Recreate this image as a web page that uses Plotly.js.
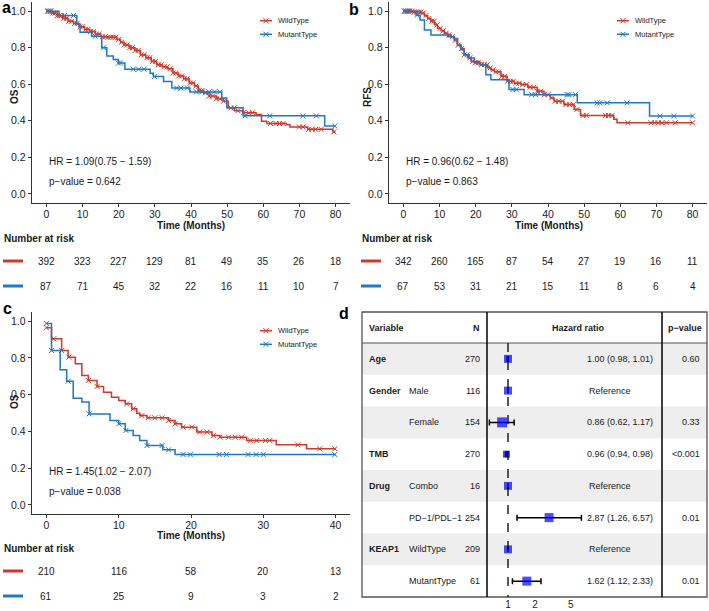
<!DOCTYPE html>
<html><head><meta charset="utf-8">
<script src="https://cdn.plot.ly/plotly-3.0.1.min.js"></script>
<style>html,body{margin:0;padding:0;background:#fff}#chart{width:709px;height:611px}</style>
</head><body><div id="chart"></div>
<script>
// ---------------- DATA ----------------
const groups = ['WildType', 'MutantType'];
const ticksAB = [0,10,20,30,40,50,60,70,80];
const ticksC = [0,10,20,30,40];

// Panel a (OS)
const a_wt_t = [0,1.5,3,4.5,6,7.5,9,10.5,12,13.5,15,17,19.5,20.5,21.5,23,24.5,26,27.5,29,30.5,32,33.5,35,36.5,38,39.5,41,42,43.5,45,47,49,50.3,52,54.4,58,59.5,61,66.4,67.4,72.3,79.3,80];
const a_wt_s = [1,0.99,0.975,0.96,0.945,0.933,0.915,0.9,0.888,0.875,0.86,0.857,0.845,0.83,0.815,0.8,0.785,0.761,0.745,0.725,0.707,0.695,0.685,0.661,0.645,0.63,0.607,0.59,0.565,0.553,0.535,0.52,0.507,0.47,0.455,0.444,0.435,0.398,0.385,0.378,0.366,0.353,0.339,0.339];
const a_wt_c = [0.3,0.8,1.3,1.8,2.4,3,3.6,4.2,4.8,5.5,6.2,7,7.8,8.5,9.3,10,10.8,11.5,12.2,13,13.8,14.6,15.5,16.3,17,17.8,18.5,19.2,20,20.8,21.5,22.3,23,23.8,24.6,25.4,26.2,27,27.8,28.6,29.4,30.2,31,31.8,32.6,33.4,34.2,35,35.8,36.6,37.4,38.2,39,39.8,40.6,41.4,42.2,43,44,45,46,47,48,49,51,53,54.5,56,57,62,63.5,64.5,65.5,70,71,72.5,73.5,74.5,76,79.5];
const a_mt_t = [0,3.5,8.4,9.3,12.5,15.3,16.7,18.5,19.9,21.7,28.7,29.6,32.4,34.7,39.7,48.5,49.9,54.4,77,80];
const a_mt_s = [1,0.976,0.93,0.885,0.862,0.8,0.755,0.735,0.716,0.682,0.66,0.642,0.615,0.579,0.558,0.525,0.471,0.427,0.371,0.371];
const a_mt_c = [0.5,1.2,5,7.5,13.5,15.8,19.9,20.5,24,25.5,27,29.9,36,37.2,39,41.5,43,45,46.5,48,52,55,61.8,71,74.7,79.8];
const a_risk_wt = [392,323,227,129,81,49,35,26,18];
const a_risk_mt = [87,71,45,32,22,16,11,10,7];
const a_stats = ['HR = 1.09(0.75 \u2212 1.59)', 'p\u2212value = 0.642'];

// Panel b (RFS)
const b_wt_t = [0,2.5,4.9,5.8,6.7,7.6,8.6,9.4,10.4,11.3,12.3,13.2,14.1,14.9,15.9,16.8,17.8,18.7,19.6,21.4,23.3,24.2,25.2,27,28.7,30.7,32.5,34.4,37,38.9,40.7,41.7,44.4,47.2,49,58.2,59.1,80];
const b_wt_s = [1,0.995,0.99,0.975,0.96,0.945,0.925,0.906,0.892,0.879,0.87,0.86,0.84,0.815,0.795,0.761,0.745,0.725,0.718,0.707,0.69,0.679,0.668,0.643,0.616,0.605,0.598,0.584,0.561,0.543,0.525,0.507,0.489,0.462,0.429,0.408,0.389,0.389];
const b_wt_c = [0.3,0.8,1.3,1.8,2.4,3,3.6,4.2,4.8,5.5,6.2,7,7.8,8.5,9.3,10.2,11,11.8,12.6,13.5,14.3,15.2,16,16.8,17.6,18.4,19.2,20,20.8,21.6,22.4,23.2,24,24.8,25.6,26.4,27.2,28,28.8,29.6,30.4,31.2,32,33,34,35,36,37,38,39,40,41,42,43,44,45,46,47,48,49.7,50.6,55.9,56.8,57.7,62.1,68.5,69.5,70.5,71.5,72.8,75.2,80];
const b_mt_t = [0,3.5,4.6,5.8,7.6,12.2,14,15,15.9,16.8,18.2,19.6,21,22.8,24.2,29.2,33.4,48.1,68.1,80];
const b_mt_s = [1,0.978,0.951,0.897,0.87,0.86,0.85,0.815,0.788,0.761,0.743,0.725,0.707,0.652,0.625,0.571,0.543,0.498,0.426,0.426];
const b_mt_c = [0.3,0.8,1.3,3.8,30.3,31.2,35.5,36.5,45.3,45.8,47.6,53.6,54.3,56.4,61.9,71,74.8,80];
const b_risk_wt = [342,260,165,87,54,27,19,16,11];
const b_risk_mt = [67,53,31,21,15,11,8,6,4];
const b_stats = ['HR = 0.96(0.62 \u2212 1.48)', 'p\u2212value = 0.863'];

// Panel c (OS)
const c_wt_t = [0,0.7,2.1,3,4,4.9,5.8,7,7.9,9,10,10.9,11.8,12.5,12.9,13.9,16.9,17.8,18.7,20.8,22.9,24,27.7,31.8,36,40];
const c_wt_s = [0.964,0.904,0.84,0.804,0.768,0.704,0.677,0.644,0.613,0.586,0.568,0.55,0.523,0.499,0.486,0.474,0.459,0.441,0.423,0.396,0.377,0.368,0.35,0.327,0.305,0.305];
const c_wt_c = [0,1,2.1,3.1,5.8,7,11.1,12,13.2,14.1,15,16,16.9,17.8,18.9,20.1,21.2,22.2,23.1,24,25.2,26.1,27,28.2,29.1,30.3,30.9,34.8,37.8,39.9];
const c_mt_t = [0,0.7,1.9,2.8,3.7,4.9,5.9,8.8,10,10.9,12,12.9,13.9,16.1,17.8,40];
const c_mt_s = [0.988,0.84,0.735,0.673,0.58,0.56,0.495,0.459,0.441,0.405,0.377,0.35,0.323,0.3,0.274,0.274];
const c_mt_c = [0,0.7,3,5.9,10,11,13.9,16,16.9,18.9,19.9,23.9,24.9,27.9,29,30,39.9];
const c_risk_wt = [210,116,58,20,13];
const c_risk_mt = [61,25,9,3,2];
const c_stats = ['HR = 1.45(1.02 \u2212 2.07)', 'p\u2212value = 0.038'];

// Panel d (forest)
const fp_var   = ['Age','Gender','','TMB','Drug','','KEAP1',''];
const fp_level = ['','Male','Female','','Combo','PD\u22121/PDL\u22121','WildType','MutantType'];
const fp_n     = [270,116,154,270,16,254,209,61];
const fp_hr    = [1.00,1,0.86,0.96,1,2.87,1,1.62];
const fp_lo    = [0.98,null,0.62,0.94,null,1.26,null,1.12];
const fp_hi    = [1.01,null,1.17,0.98,null,6.57,null,2.33];
const fp_p     = ['0.60','','0.33','<0.001','','0.01','','0.01'];
const fp_ticks = [1,2,5];

// ---------------- STYLE / LAYOUT ----------------
const W = 709, H = 611;
const px = x => x / W, py = y => 1 - y / H;
const FONT = 'Liberation Sans, Arial, sans-serif';
const RED = '#CB3A2C', BLUE = '#1F78C4', TXT = '#1a1a1a';

function survAt(t, times, surv) {
  let s = surv[0];
  for (let i = 0; i < times.length; i++) { if (times[i] <= t) s = surv[i]; else break; }
  return s;
}
function kmTraces(times, surv, cens, color, xa, ya) {
  return [
    {type:'scatter', mode:'lines', x:times, y:surv, xaxis:xa, yaxis:ya, line:{shape:'hv', color:color, width:1.5}, showlegend:false, hoverinfo:'skip'},
    {type:'scatter', mode:'markers', x:cens, y:cens.map(t => survAt(t, times, surv)), xaxis:xa, yaxis:ya,
     marker:{symbol:'x-thin', size:5, line:{width:1, color:color}, color:color}, showlegend:false, hoverinfo:'skip'}
  ];
}

const traces = [].concat(
  kmTraces(a_wt_t, a_wt_s, a_wt_c, RED, 'x', 'y'),
  kmTraces(a_mt_t, a_mt_s, a_mt_c, BLUE, 'x', 'y'),
  kmTraces(b_wt_t, b_wt_s, b_wt_c, RED, 'x2', 'y2'),
  kmTraces(b_mt_t, b_mt_s, b_mt_c, BLUE, 'x2', 'y2'),
  kmTraces(c_wt_t, c_wt_s, c_wt_c, RED, 'x3', 'y3'),
  kmTraces(c_mt_t, c_mt_s, c_mt_c, BLUE, 'x3', 'y3')
);

const fpY = fp_hr.map((_, i) => i + 0.5);
traces.push({
  type:'scatter', mode:'markers', x:fp_hr, y:fpY, xaxis:'x4', yaxis:'y4', showlegend:false, hoverinfo:'skip',
  marker:{symbol:'square', size:[8,8,10,7,8,9,8,9], color:'#0000FF', line:{width:0}},
  error_x:{type:'data', symmetric:false,
    array: fp_hr.map((v,i) => fp_hi[i] == null ? 0 : fp_hi[i] - v),
    arrayminus: fp_hr.map((v,i) => fp_lo[i] == null ? 0 : v - fp_lo[i]),
    color:'#000', thickness:1.5, width:3}
});

const tickFont = {family:FONT, size:10.5, color:'#222'};
function kmX(l, r, range, tickvals, anchor) {
  return {domain:[px(l), px(r)], range:range, tickvals:tickvals, showline:true, linecolor:'#333', linewidth:1.3,
    ticks:'outside', ticklen:3, tickcolor:'#333', tickwidth:1, ticklabelstandoff:-2, showgrid:false, zeroline:false, tickfont:tickFont, anchor:anchor, fixedrange:true};
}
function kmY(t, b, anchor) {
  return {domain:[py(b), py(t)], range:[-0.05,1.05], tickvals:[0,0.2,0.4,0.6,0.8,1], tickformat:'.1f', showline:true, linecolor:'#333', linewidth:1.3,
    ticks:'outside', ticklen:3, tickcolor:'#333', tickwidth:1, showgrid:false, zeroline:false, tickfont:tickFont, anchor:anchor, fixedrange:true};
}

const ann = [];
function txt(text, x, y, opt) {
  ann.push(Object.assign({text:text, x:px(x), y:py(y), xref:'paper', yref:'paper', showarrow:false,
    xanchor:'left', yanchor:'middle', font:{family:FONT, size:10, color:TXT}}, opt || {}));
}
const shapes = [];

// legend keys (line + censor cross) drawn at the legend position
function legendKey(x, y, color, label) {
  shapes.push({type:'line', xref:'paper', yref:'paper', x0:px(x), x1:px(x + 12), y0:py(y), y1:py(y), line:{color:color, width:1.5}});
  const c = x + 6, d = 2.6;
  shapes.push({type:'path', xref:'paper', yref:'paper',
    path:'M' + px(c-d) + ',' + py(y-d) + 'L' + px(c+d) + ',' + py(y+d) + 'M' + px(c-d) + ',' + py(y+d) + 'L' + px(c+d) + ',' + py(y-d),
    line:{color:color, width:1}});
  txt(label, x + 16, y, {font:{family:FONT, size:7.5, color:TXT}});
}

// KM panel decorations
function kmDecor(cfg) {
  txt(cfg.stats[0], cfg.statX, cfg.statY1);
  txt(cfg.stats[1], cfg.statX, cfg.statY2);
  txt('<b>Time (Months)</b>', cfg.timeX, cfg.timeY, {xanchor:'center'});
  txt('<b>' + cfg.ylab + '</b>', cfg.ylabX, cfg.ylabY, {xanchor:'center', textangle:-90});
  txt('<b>Number at risk</b>', cfg.nrX, cfg.nrY);
  cfg.ticks.forEach((t, i) => {
    ann.push({text:String(cfg.riskWt[i]), x:t, y:py(cfg.rowWt), xref:cfg.xa, yref:'paper', showarrow:false, xanchor:'center', yanchor:'middle', font:{family:FONT, size:10, color:TXT}});
    ann.push({text:String(cfg.riskMt[i]), x:t, y:py(cfg.rowMt), xref:cfg.xa, yref:'paper', showarrow:false, xanchor:'center', yanchor:'middle', font:{family:FONT, size:10, color:TXT}});
  });
  shapes.push({type:'line', xref:'paper', yref:'paper', x0:px(cfg.dashX), x1:px(cfg.dashX+20), y0:py(cfg.rowWt), y1:py(cfg.rowWt), line:{color:RED, width:3}});
  shapes.push({type:'line', xref:'paper', yref:'paper', x0:px(cfg.dashX), x1:px(cfg.dashX+20), y0:py(cfg.rowMt), y1:py(cfg.rowMt), line:{color:BLUE, width:3}});
  legendKey(cfg.legX, cfg.legY, RED, groups[0]);
  legendKey(cfg.legX, cfg.legY + 13.6, BLUE, groups[1]);
}
kmDecor({stats:a_stats, statX:47, statY1:162, statY2:181, timeX:191, timeY:225, ylab:'OS', ylabX:14, ylabY:97,
  nrX:2, nrY:238, ticks:ticksAB, riskWt:a_risk_wt, riskMt:a_risk_mt, rowWt:261, rowMt:286, xa:'x', dashX:3, legX:260, legY:20.7});
kmDecor({stats:b_stats, statX:404, statY1:162, statY2:181, timeX:549, timeY:225, ylab:'RFS', ylabX:367, ylabY:97,
  nrX:360, nrY:238, ticks:ticksAB, riskWt:b_risk_wt, riskMt:b_risk_mt, rowWt:261, rowMt:286, xa:'x2', dashX:361, legX:617, legY:20.7});
kmDecor({stats:c_stats, statX:47, statY1:471, statY2:491, timeX:191, timeY:535, ylab:'OS', ylabX:14, ylabY:402,
  nrX:2, nrY:548, ticks:ticksC, riskWt:c_risk_wt, riskMt:c_risk_mt, rowWt:571, rowMt:596, xa:'x3', dashX:3, legX:260, legY:330.7});

// panel letters
const LF = {family:FONT, size:16, color:'#000'};
txt('<b>a</b>', 0, 8, {font:LF});
txt('<b>b</b>', 347, 9, {font:LF});
txt('<b>c</b>', 1, 308, {font:LF});
txt('<b>d</b>', 337, 313, {font:LF});

// Forest table
const TL = 362, TR = 707, TT = 312, TH = 343, TB = 597, V1 = 487, V2 = 662;
for (let i = 0; i < 8; i += 2) {
  shapes.push({type:'rect', xref:'paper', yref:'y4', x0:px(TL), x1:px(TR), y0:i, y1:i+1, fillcolor:'#EEEEEE', line:{width:0}, layer:'below'});
}
shapes.push({type:'rect', xref:'paper', yref:'paper', x0:px(TL), x1:px(TR), y0:py(TB), y1:py(TT), line:{color:'#555', width:1.3}});
shapes.push({type:'line', xref:'paper', yref:'paper', x0:px(TL), x1:px(TR), y0:py(TH), y1:py(TH), line:{color:'#555', width:1}});
shapes.push({type:'line', xref:'paper', yref:'paper', x0:px(V1), x1:px(V1), y0:py(TB), y1:py(TT), line:{color:'#000', width:1.5}});
shapes.push({type:'line', xref:'paper', yref:'paper', x0:px(V2), x1:px(V2), y0:py(TB), y1:py(TT), line:{color:'#000', width:1.5}});
shapes.push({type:'line', xref:'x4', yref:'y4', x0:1, x1:1, y0:0, y1:8, line:{color:'#000', width:1.3, dash:'dash'}});

const FF = {family:FONT, size:9, color:TXT};
const hy = (TT + TH) / 2;
txt('<b>Variable</b>', 367, hy, {font:FF});
txt('<b>N</b>', 482, hy, {font:FF, xanchor:'right'});
txt('<b>Hazard ratio</b>', 578, hy, {font:FF, xanchor:'center'});
txt('<b>p\u2212value</b>', 685, hy, {font:FF, xanchor:'center'});
fp_hr.forEach((v, i) => {
  const row = {xref:'paper', yref:'y4', y:i + 0.5, showarrow:false, yanchor:'middle', font:FF};
  if (fp_var[i]) ann.push(Object.assign({}, row, {text:'<b>' + fp_var[i] + '</b>', x:px(367), xanchor:'left'}));
  if (fp_level[i]) ann.push(Object.assign({}, row, {text:fp_level[i], x:px(407), xanchor:'left'}));
  ann.push(Object.assign({}, row, {text:String(fp_n[i]), x:px(482), xanchor:'right'}));
  if (fp_lo[i] == null) ann.push(Object.assign({}, row, {text:'Reference', x:px(587), xanchor:'left'}));
  else ann.push(Object.assign({}, row, {text:v.toFixed(2) + ' (' + fp_lo[i].toFixed(2) + ', ' + fp_hi[i].toFixed(2) + ')', x:px(655), xanchor:'right'}));
  if (fp_p[i]) ann.push(Object.assign({}, row, {text:fp_p[i].replace('<','&lt;'), x:px(702), xanchor:'right'}));
});

const layout = {
  width:W, height:H, margin:{l:0, r:0, t:0, b:0}, paper_bgcolor:'#fff', plot_bgcolor:'rgba(0,0,0,0)',
  font:{family:FONT, color:TXT}, hovermode:false, showlegend:false,
  xaxis: kmX(32, 350, [-4, 84], ticksAB, 'y'),
  yaxis: kmY(2, 203, 'x'),
  xaxis2: kmX(389, 707, [-4, 84], ticksAB, 'y2'),
  yaxis2: kmY(2, 203, 'x2'),
  xaxis3: kmX(32, 350, [-2, 42], ticksC, 'y3'),
  yaxis3: kmY(312, 514, 'x3'),
  xaxis4: {domain:[px(V1), px(V2)], type:'log', range:[-0.234, 1.715], tickvals:fp_ticks, ticktext:fp_ticks.map(String),
    showline:false, ticks:'', showgrid:false, zeroline:false, tickfont:{family:FONT, size:10, color:'#222'}, anchor:'y4', fixedrange:true},
  yaxis4: {domain:[py(TB), py(TH)], range:[8, 0], visible:false, anchor:'x4', fixedrange:true},
  annotations: ann,
  shapes: shapes
};

Plotly.newPlot('chart', traces, layout, {staticPlot:true, displayModeBar:false});
</script></body></html>
